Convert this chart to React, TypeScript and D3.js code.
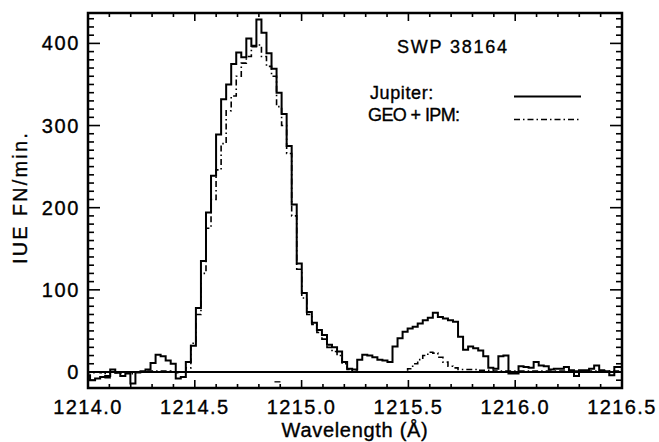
import React from 'react';
import * as d3 from 'd3';

// Wavelength grid of the spectrum bins (Å): left edge of the first bin and bin width
const wavelengthStart = 1213.986;
const binWidth = 0.0236;

// Jupiter (solid histogram), IUE FN/min per bin
const jupiter = [
  -4, -10, -8, -6, -5, 3, -1, -5, -2, -14,
  0, 1, 3, 11, 21, 19, 14, 10, -8, -6,
  12, 32, 78, 135, 194, 239, 289, 332, 350, 375,
  389, 383, 406, 397, 429, 413, 388, 369, 340, 314,
  275, 204, 132, 96, 73, 60, 51, 45, 33, 30,
  25, 12, 4, 3, 15, 21, 20, 18, 15, 14,
  12, 31, 41, 49, 53, 55, 59, 63, 66, 72,
  67, 65, 63, 61, 43, 27, 31, 29, 26, 19,
  5, 4, 19, 20, -2, -2, 7, 6, 5, 12,
  8, 7, 3, 4, 4, 6, 2, -5, 2, 2,
  4, 8, 2, 1, -4, 6, 6,
];

// GEO + IPM (dash-dot histogram)
const geoIpm = [
  0, -1, 0, -1, -7, 0, -1, -1, 0, -2,
  -1, 0, 1, 1, 1, 1, 1, 0, -1, 0,
  5, 35, 70, 120, 175, 210, 246, 278, 318, 336,
  360, 376, 384, 396, 398, 384, 372, 360, 323, 300,
  266, 190, 125, 90, 70, 58, 48, 40, 30, 25,
  20, 10, 3, 1, 0, 0, 0, 0, 0, 0,
  0, 0, 0, 0, 4, 10, 15, 20, 24, 23,
  18, 12, 7, 5, 3, 3, 3, 3, 2, 2,
  2, 1, 1, 1, 1, 1, 1, 1, 1, 1,
  1, 1, 1, 1, 1, 1, 1, 1, 1, 1,
  1, 1, 1, 1, 1, 1, 1,
];

const xTickValues = [1214.0, 1214.5, 1215.0, 1215.5, 1216.0, 1216.5];
const xTickLabels = ['1214.0', '1214.5', '1215.0', '1215.5', '1216.0', '1216.5'];
const yTickValues = [0, 100, 200, 300, 400];
const yTickLabels = ['0', '100', '200', '300', '400'];

const titleText = 'SWP 38164';
const legendLabels = ['Jupiter:', 'GEO + IPM:'];
const xTitle = 'Wavelength (Å)';
const yTitle = 'IUE FN/min.';

// small isolated mark below the zero line
const markWavelength = 1214.887;
const markValue = -12;

const FONT = '"Liberation Sans", Arial, Helvetica, sans-serif';
const DASH = '6,3,1.5,3';
const TXT = { fill: '#000', stroke: '#000', strokeWidth: 0.35 };

export default function App() {
  const W = 659;
  const H = 442;
  const L = 88, R = 622, T = 13, B = 388;
  const x = d3.scaleLinear().domain([1214, 1216.5]).range([L, R]);
  const y = d3.scaleLinear().domain([-19.5, 437]).range([B, T]);

  const toPts = (vals: number[]): [number, number][] => {
    const pts: [number, number][] = vals.map((v, i) => [wavelengthStart + i * binWidth, v]);
    pts.push([wavelengthStart + vals.length * binWidth, vals[vals.length - 1]]);
    return pts;
  };
  const line = d3
    .line<[number, number]>()
    .x((d) => x(d[0]))
    .y((d) => y(d[1]))
    .curve(d3.curveStepAfter);

  const xMinor = d3.range(0, 26).filter((i) => i % 5 !== 0).map((i) => 1214 + i * 0.1);
  const yMinor = d3
    .range(-1, 44)
    .map((i) => i * 10)
    .filter((v) => v % 100 !== 0 && v >= -19.5 && v <= 437);

  const xMajLen = 8, xMinLen = 4, yMajLen = 12, yMinLen = 6;

  return (
    <svg
      width={W}
      height={H}
      style={{ position: 'absolute', left: 0, top: 0, background: '#fff' }}
      fontFamily={FONT}
    >
      <rect x={0} y={0} width={W} height={H} fill="#fff" />
      <defs>
        <clipPath id="plotClip">
          <rect x={L} y={T} width={R - L} height={B - T} />
        </clipPath>
      </defs>

      <g clipPath="url(#plotClip)">
        <line x1={L} x2={R} y1={y(0)} y2={y(0)} stroke="#000" strokeWidth={2.2} />
        <path d={line(toPts(geoIpm)) || ''} fill="none" stroke="#000" strokeWidth={1.6} strokeDasharray={DASH} />
        <path d={line(toPts(jupiter)) || ''} fill="none" stroke="#000" strokeWidth={2} />
        <line
          x1={x(markWavelength) - 3}
          x2={x(markWavelength) + 3}
          y1={y(markValue)}
          y2={y(markValue)}
          stroke="#000"
          strokeWidth={1.3}
        />
      </g>

      {/* ticks */}
      <g stroke="#000" strokeWidth={1.6}>
        {xTickValues.map((v) => (
          <g key={'xm' + v}>
            <line x1={x(v)} x2={x(v)} y1={B} y2={B - xMajLen} />
            <line x1={x(v)} x2={x(v)} y1={T} y2={T + xMajLen} />
          </g>
        ))}
        {xMinor.map((v) => (
          <g key={'xn' + v}>
            <line x1={x(v)} x2={x(v)} y1={B} y2={B - xMinLen} />
            <line x1={x(v)} x2={x(v)} y1={T} y2={T + xMinLen} />
          </g>
        ))}
        {yTickValues.map((v) => (
          <g key={'ym' + v}>
            <line x1={L} x2={L + yMajLen} y1={y(v)} y2={y(v)} />
            <line x1={R} x2={R - yMajLen} y1={y(v)} y2={y(v)} />
          </g>
        ))}
        {yMinor.map((v) => (
          <g key={'yn' + v}>
            <line x1={L} x2={L + yMinLen} y1={y(v)} y2={y(v)} />
            <line x1={R} x2={R - yMinLen} y1={y(v)} y2={y(v)} />
          </g>
        ))}
      </g>

      <rect x={L} y={T} width={R - L} height={B - T} fill="none" stroke="#000" strokeWidth={2.5} />

      {/* tick labels */}
      {xTickValues.map((v, i) => (
        <text key={'xl' + v} x={x(v)} y={414} textAnchor="middle" fontSize={20} letterSpacing={1.4} {...TXT}>
          {xTickLabels[i]}
        </text>
      ))}
      {yTickValues.map((v, i) => (
        <text key={'yl' + v} x={80} y={y(v) + 7} textAnchor="end" fontSize={20} letterSpacing={1.6} {...TXT}>
          {yTickLabels[i]}
        </text>
      ))}

      <text x={(L + R) / 2} y={437} textAnchor="middle" fontSize={20} letterSpacing={0.7} {...TXT}>
        {xTitle}
      </text>
      <text
        transform={`translate(27, ${(T + B) / 2 - 3}) rotate(-90)`}
        textAnchor="middle"
        fontSize={20}
        letterSpacing={2.2}
        {...TXT}
      >
        {yTitle}
      </text>

      {/* annotation + legend */}
      <text x={397} y={53} fontSize={18} letterSpacing={1.8} {...TXT}>
        {titleText}
      </text>
      <text x={370} y={99} fontSize={18} letterSpacing={0.6} {...TXT}>
        {legendLabels[0]}
      </text>
      <text x={368} y={121} fontSize={18} letterSpacing={-0.6} {...TXT}>
        {legendLabels[1]}
      </text>
      <line x1={514} x2={581} y1={96.5} y2={96.5} stroke="#000" strokeWidth={2} />
      <line x1={514} x2={580} y1={119.5} y2={119.5} stroke="#000" strokeWidth={1.6} strokeDasharray={DASH} />
    </svg>
  );
}
